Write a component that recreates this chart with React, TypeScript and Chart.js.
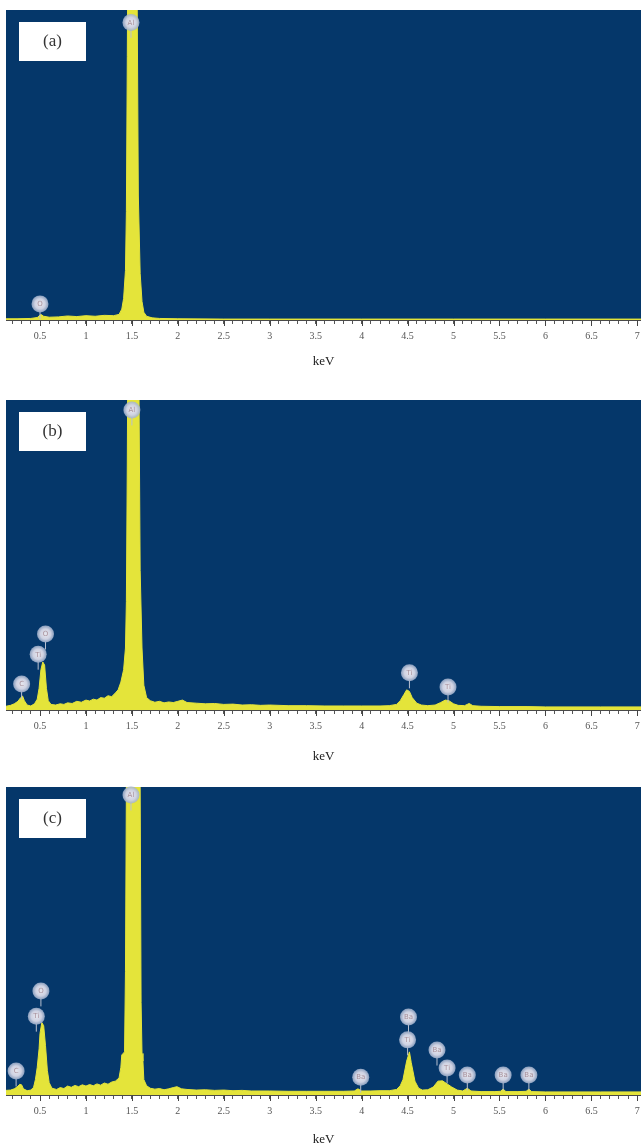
import React, { useEffect, useRef } from 'react';
import { Chart, registerables } from 'chart.js';
Chart.register(...registerables);

// ---- axis ----
const tickValues = [0.5, 1, 1.5, 2, 2.5, 3, 3.5, 4, 4.5, 5, 5.5, 6, 6.5, 7];
const tickLabels = ['0.5', '1', '1.5', '2', '2.5', '3', '3.5', '4', '4.5', '5', '5.5', '6', '6.5', '7'];
const axisTitle = 'keV';
const xMin = 0.13;
const xMax = 7.04;

// ---- panel (a) ----
const energyA = [0.13, 0.25, 0.4, 0.47, 0.51, 0.54, 0.6, 0.7, 0.8, 0.9, 1.0, 1.1, 1.2, 1.3, 1.36, 1.39, 1.41, 1.43, 1.44, 1.45, 1.46, 1.55, 1.56, 1.57, 1.59, 1.61, 1.63, 1.66, 1.72, 1.8, 2.0, 2.5, 3.0, 4.0, 5.0, 6.0, 7.04];
const countsA = [0.4, 0.4, 0.5, 0.8, 1.8, 1.2, 0.9, 1.0, 1.3, 1.1, 1.4, 1.2, 1.5, 1.4, 1.8, 3.5, 7, 16, 35, 85, 140, 140, 90, 40, 15, 6, 2.5, 1.2, 0.7, 0.5, 0.4, 0.3, 0.3, 0.3, 0.3, 0.3, 0.3];
const markerEnergyA = [0.5, 1.49];
const markerHeightA = [5.2, 96];
const markerTextA = ['O', 'Al'];

// ---- panel (b) ----
const energyB = [0.13, 0.18, 0.22, 0.26, 0.29, 0.31, 0.33, 0.36, 0.4, 0.44, 0.47, 0.49, 0.51, 0.53, 0.55, 0.57, 0.59, 0.62, 0.67, 0.72, 0.76, 0.8, 0.85, 0.9, 0.95, 1.0, 1.04, 1.08, 1.12, 1.16, 1.2, 1.24, 1.28, 1.32, 1.35, 1.38, 1.41, 1.43, 1.44, 1.45, 1.46, 1.57, 1.58, 1.59, 1.61, 1.63, 1.66, 1.7, 1.75, 1.8, 1.85, 1.9, 1.95, 2.0, 2.05, 2.1, 2.2, 2.3, 2.4, 2.5, 2.6, 2.7, 2.8, 2.9, 3.0, 3.2, 3.4, 3.6, 3.8, 4.0, 4.2, 4.3, 4.38, 4.42, 4.46, 4.49, 4.52, 4.55, 4.6, 4.65, 4.72, 4.8, 4.86, 4.91, 4.95, 5.0, 5.05, 5.12, 5.17, 5.21, 5.3, 5.5, 5.8, 6.0, 6.3, 6.6, 7.04];
const countsB = [1.2, 1.5, 2, 2.8, 4, 4.5, 3, 1.6, 1.3, 2, 3.5, 7, 13, 15.5, 14.5, 7, 3, 1.8, 1.6, 2, 1.8, 2.3, 2.1, 2.8, 2.5, 3.2, 2.9, 3.5, 3.2, 4, 3.8, 4.6, 4.3, 5.5, 6.5, 9, 13, 20, 35, 80, 140, 140, 90, 45, 20, 8, 4, 3, 2.5, 2.8, 2.3, 2.6, 2.4, 2.8, 3.2, 2.4, 2.2, 2, 2.1, 1.8, 1.9, 1.6, 1.7, 1.5, 1.6, 1.4, 1.4, 1.3, 1.3, 1.3, 1.3, 1.4, 1.8, 3, 5, 6.5, 6, 4, 2.2, 1.6, 1.4, 1.6, 2.4, 3.2, 3, 2, 1.5, 1.4, 2.1, 1.4, 1.2, 1.1, 1.1, 1, 1, 1, 1];
const markerEnergyB = [0.3, 0.48, 0.56, 1.5, 4.52, 4.94];
const markerHeightB = [8.4, 18, 24.5, 96.8, 12, 7.4];
const markerTextB = ['C', 'Ti', 'O', 'Al', 'Ti', 'Ti'];

// ---- panel (c) ----
const energyC = [0.13, 0.18, 0.22, 0.25, 0.28, 0.3, 0.32, 0.36, 0.4, 0.43, 0.45, 0.47, 0.49, 0.5, 0.52, 0.54, 0.56, 0.58, 0.6, 0.63, 0.68, 0.72, 0.76, 0.8, 0.84, 0.88, 0.92, 0.96, 1.0, 1.04, 1.08, 1.12, 1.16, 1.2, 1.24, 1.28, 1.32, 1.36, 1.38, 1.39, 1.42, 1.43, 1.44, 1.45, 1.58, 1.59, 1.6, 1.61, 1.62, 1.63, 1.66, 1.7, 1.75, 1.8, 1.85, 1.9, 1.95, 1.99, 2.04, 2.1, 2.2, 2.3, 2.4, 2.5, 2.6, 2.7, 2.8, 3.0, 3.2, 3.4, 3.6, 3.8, 3.92, 3.96, 4.0, 4.1, 4.2, 4.3, 4.38, 4.42, 4.45, 4.49, 4.52, 4.54, 4.58, 4.62, 4.66, 4.72, 4.78, 4.83, 4.88, 4.93, 4.98, 5.04, 5.1, 5.15, 5.19, 5.3, 5.45, 5.51, 5.54, 5.57, 5.7, 5.79, 5.82, 5.85, 6.0, 6.3, 6.6, 7.04];
const countsC = [1.5, 1.6, 2, 2.6, 3.5, 3.3, 2, 1.4, 1.6, 2.5, 5, 9, 15, 20, 23.5, 22.5, 16, 8, 4, 2.2, 1.8, 2.4, 2.1, 2.9, 2.5, 3.1, 2.7, 3.3, 2.9, 3.4, 3, 3.6, 3.2, 3.9, 3.5, 4.2, 4.5, 5.5, 9, 13, 14, 40, 100, 140, 140, 100, 30, 13.5, 11, 5, 3, 2.2, 1.9, 2.1, 1.7, 2, 2.4, 2.7, 2, 1.8, 1.6, 1.7, 1.5, 1.6, 1.4, 1.5, 1.3, 1.3, 1.2, 1.2, 1.2, 1.2, 1.3, 2, 1.3, 1.3, 1.4, 1.4, 1.8, 3, 5, 11, 14, 10.5, 4.5, 2.2, 1.6, 1.7, 2.6, 4.5, 4.6, 3.6, 2.6, 1.6, 1.3, 2.2, 1.3, 1.1, 1.1, 1.2, 1.9, 1.1, 1.1, 1.2, 1.9, 1.1, 1, 1, 1, 1];
const markerEnergyC = [0.24, 0.46, 0.51, 1.49, 3.99, 4.51, 4.5, 4.82, 4.93, 5.15, 5.54, 5.82];
const markerHeightC = [7.8, 25.6, 33.8, 97.4, 5.8, 25.3, 17.9, 14.6, 8.8, 6.5, 6.5, 6.5];
const markerTextC = ['C', 'Ti', 'O', 'Al', 'Ba', 'Ba', 'Ti', 'Ba', 'Ti', 'Ba', 'Ba', 'Ba'];

const BG = '#05376a';
const YELLOW = '#e4e43a';

type PanelProps = {
  top: number;
  height: number;
  axisHeight: number;
  titlePad: number;
  panelLabel: string;
  energies: number[];
  counts: number[];
  mE: number[];
  mH: number[];
  mT: string[];
};

function Panel(props: PanelProps) {
  const ref = useRef<HTMLCanvasElement | null>(null);
  useEffect(() => {
    const canvas = ref.current;
    if (!canvas) return;
    const { axisHeight, titlePad, panelLabel, energies, counts, mE, mH, mT } = props;
    const decor = {
      id: 'decor',
      beforeDraw(chart: any) {
        const { ctx, chartArea } = chart;
        ctx.save();
        ctx.fillStyle = BG;
        ctx.fillRect(chartArea.left, chartArea.top, chartArea.right - chartArea.left, chartArea.bottom - chartArea.top);
        ctx.restore();
      },
      afterDatasetsDraw(chart: any) {
        const { ctx, chartArea, scales } = chart;
        const xs = scales.x;
        const ys = scales.y;
        const r = 8.5;
        ctx.save();
        // stems
        ctx.strokeStyle = '#b9c0d0';
        ctx.lineWidth = 1;
        for (let i = 0; i < mE.length; i++) {
          const cx = xs.getPixelForValue(mE[i]);
          const cy = ys.getPixelForValue(mH[i]);
          ctx.beginPath();
          ctx.moveTo(cx, cy + r - 1);
          ctx.lineTo(cx, Math.min(cy + r + 7, chartArea.bottom));
          ctx.stroke();
        }
        // circles
        for (let i = 0; i < mE.length; i++) {
          const cx = xs.getPixelForValue(mE[i]);
          const cy = ys.getPixelForValue(mH[i]);
          const g = ctx.createRadialGradient(cx, cy, 0, cx, cy, r);
          g.addColorStop(0, '#e6e6ee');
          g.addColorStop(0.6, '#cfd2e2');
          g.addColorStop(1, 'rgba(160,176,204,0.85)');
          ctx.fillStyle = g;
          ctx.beginPath();
          ctx.arc(cx, cy, r, 0, Math.PI * 2);
          ctx.fill();
          ctx.fillStyle = '#a8909a';
          ctx.font = '7px "DejaVu Sans"';
          ctx.textAlign = 'center';
          ctx.textBaseline = 'middle';
          ctx.fillText(mT[i], cx, cy + 0.5);
        }
        // panel label box
        const bx = chartArea.left + 13;
        const by = chartArea.top + 12;
        ctx.fillStyle = '#ffffff';
        ctx.fillRect(bx, by, 67, 39);
        ctx.fillStyle = '#333333';
        ctx.font = '17px "Liberation Serif"';
        ctx.textAlign = 'center';
        ctx.textBaseline = 'middle';
        ctx.fillText(panelLabel, bx + 33.5, by + 19.5);
        ctx.restore();
      },
      afterDraw(chart: any) {
        const { ctx, chartArea, scales } = chart;
        const xs = scales.x;
        ctx.save();
        ctx.strokeStyle = '#444';
        ctx.lineWidth = 1;
        for (const v of tickValues) {
          const px = Math.round(xs.getPixelForValue(v)) + 0.5;
          ctx.beginPath();
          ctx.moveTo(px, chartArea.bottom);
          ctx.lineTo(px, chartArea.bottom + 6);
          ctx.stroke();
        }
        ctx.restore();
      },
    };
    const chart = new Chart(canvas, {
      type: 'line',
      data: {
        datasets: [
          {
            data: energies.map((e, i) => ({ x: e, y: counts[i] })),
            borderColor: YELLOW,
            backgroundColor: YELLOW,
            borderWidth: 1,
            fill: 'origin',
            pointRadius: 0,
            tension: 0,
            clip: 0,
          } as any,
        ],
      },
      options: {
        animation: false,
        responsive: false,
        maintainAspectRatio: false,
        events: [],
        layout: { padding: { top: 10, left: 6, right: 0, bottom: 0 } },
        plugins: { legend: { display: false }, tooltip: { enabled: false } },
        scales: {
          x: {
            type: 'linear',
            min: xMin,
            max: xMax,
            afterBuildTicks: (scale: any) => {
              const t: any[] = [];
              for (let i = 2; i <= 70; i++) t.push({ value: i / 10 });
              scale.ticks = t;
            },
            afterFit: (scale: any) => {
              scale.height = axisHeight;
              scale.paddingLeft = 0;
              scale.paddingRight = 0;
            },
            grid: {
              drawOnChartArea: false,
              drawTicks: true,
              tickLength: 4,
              tickWidth: 1,
              tickColor: '#555',
            },
            border: { display: true, color: '#4a4a4a', width: 1 },
            ticks: {
              autoSkip: false,
              maxRotation: 0,
              minRotation: 0,
              padding: 6,
              color: '#555',
              font: { family: '"Liberation Serif"', size: 10 },
              callback: (value: any) => {
                const idx = tickValues.findIndex((v) => Math.abs(v - Number(value)) < 1e-6);
                return idx >= 0 ? tickLabels[idx] : '';
              },
            },
            title: {
              display: true,
              text: axisTitle,
              color: '#222',
              font: { family: '"Liberation Serif"', size: 13 },
              padding: { top: 0, bottom: titlePad },
            },
          },
          y: { display: false, min: 0, max: 100 },
        },
      },
      plugins: [decor],
    } as any);
    return () => chart.destroy();
  }, []);
  return (
    <canvas
      ref={ref}
      width={641}
      height={props.height}
      style={{ position: 'absolute', left: 0, top: props.top, width: 641, height: props.height }}
    />
  );
}

export default function App() {
  return (
    <div style={{ position: 'absolute', left: 0, top: 0, width: 641, height: 1147, background: '#fff' }}>
      <Panel top={0} height={376} axisHeight={56} titlePad={7} panelLabel="(a)" energies={energyA} counts={countsA} mE={markerEnergyA} mH={markerHeightA} mT={markerTextA} />
      <Panel top={390} height={376} axisHeight={56} titlePad={2} panelLabel="(b)" energies={energyB} counts={countsB} mE={markerEnergyB} mH={markerHeightB} mT={markerTextB} />
      <Panel top={777} height={370} axisHeight={52} titlePad={0} panelLabel="(c)" energies={energyC} counts={countsC} mE={markerEnergyC} mH={markerHeightC} mT={markerTextC} />
    </div>
  );
}
